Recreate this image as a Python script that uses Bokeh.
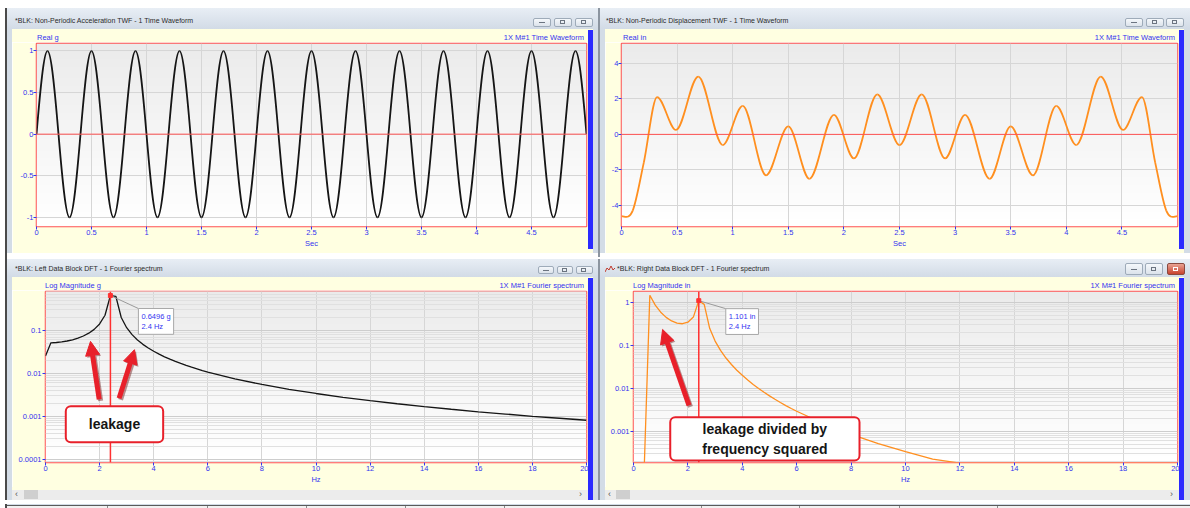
import math
import numpy as np
from bokeh.plotting import figure
from bokeh.layouts import row, column
from bokeh.models import (Div, Span, Label, Arrow, NormalHead, FixedTicker,
                          PrintfTickFormatter, ColumnDataSource)
from bokeh.embed import file_html
from bokeh.resources import INLINE

# ------------------------------------------------------------------ data
# acceleration time waveform (g) read every 0.1 s
acc_time_s = [0.0, 0.1, 0.2, 0.3, 0.4, 0.5, 0.6, 0.7, 0.8, 0.9,
              1.0, 1.1, 1.2, 1.3, 1.4, 1.5, 1.6, 1.7, 1.8, 1.9,
              2.0, 2.1, 2.2, 2.3, 2.4, 2.5, 2.6, 2.7, 2.8, 2.9,
              3.0, 3.1, 3.2, 3.3, 3.4, 3.5, 3.6, 3.7, 3.8, 3.9,
              4.0, 4.1, 4.2, 4.3, 4.4, 4.5, 4.6, 4.7, 4.8, 4.9, 5.0]
acc_g = [0, 1, 0, -1, 0, 1, 0, -1, 0, 1,
         0, -1, 0, 1, 0, -1, 0, 1, 0, -1,
         0, 1, 0, -1, 0, 1, 0, -1, 0, 1,
         0, -1, 0, 1, 0, -1, 0, 1, 0, -1,
         0, 1, 0, -1, 0, 1, 0, -1, 0, 1, 0]

# displacement time waveform (in): turning points
disp_time_s = [0.0, 0.1, 0.2, 0.32, 0.49, 0.69, 0.91, 1.09, 1.30, 1.50,
               1.69, 1.91, 2.09, 2.30, 2.50, 2.70, 2.91, 3.09, 3.31, 3.50,
               3.70, 3.91, 4.09, 4.31, 4.51, 4.68, 4.8, 4.9, 5.0]
disp_in = [-4.6, -4.3, -1.6, 2.1, 0.25, 3.25, -0.6, 1.6, -2.3, 0.45,
           -2.5, 1.1, -1.35, 2.25, -0.6, 2.25, -1.35, 1.1, -2.5, 0.45,
           -2.3, 1.6, -0.6, 3.25, 0.25, 2.1, -1.6, -4.3, -4.6]

# Fourier spectra (log magnitude)
spec_hz = [0.0, 0.2, 0.4, 0.6, 0.8, 1.0, 1.2, 1.4, 1.6, 1.8,
           2.0, 2.2, 2.4, 2.6, 2.8, 3.0, 3.2, 3.4, 3.6, 3.8,
           4.0, 4.2, 4.4, 4.6, 4.8, 5.0, 5.2, 5.4, 5.6, 5.8,
           6.0, 7, 8, 9, 10, 11, 12, 13, 14, 15, 16, 17, 18, 19, 20]
spec_left_g = [0.0255, 0.0513, 0.0523, 0.0540, 0.0567, 0.0606, 0.0662, 0.0742, 0.0863, 0.1058,
               0.1415, 0.2257, 0.6496, 0.6241, 0.2002, 0.1158, 0.0798, 0.0599, 0.0474, 0.0389,
               0.0327, 0.0280, 0.0243, 0.0214, 0.0190, 0.0170, 0.0153, 0.0139, 0.0127, 0.0116,
               0.0107, 0.00745, 0.00551, 0.00426, 0.00340, 0.00277, 0.00231, 0.00196, 0.00168,
               0.00146, 0.00127, 0.00113, 0.00100, 0.00090, 0.00081]
spec_right_in = [0.00018, 0.00018, 0.00018, 1.468, 0.867, 0.593, 0.4495, 0.370, 0.3295, 0.319,
                 0.346, 0.456, 1.101, 0.903, 0.2497, 0.1258, 0.0762, 0.0507, 0.0358, 0.0263,
                 0.0200, 0.0155, 0.01227, 0.00987, 0.00805, 0.00664, 0.00554, 0.00466, 0.00395, 0.00338,
                 0.00291, 0.00149, 0.000842, 0.000514, 0.000332, 0.000224, 0.00018, 0.00018, 0.00018,
                 0.00018, 0.00018, 0.00018, 0.00018, 0.00018, 0.00018]
peak_hz = 2.4
peak_left_g = 0.6496
peak_right_in = 1.101

time_ticks = [0, 0.5, 1, 1.5, 2, 2.5, 3, 3.5, 4, 4.5]
acc_ticks = [-1, -0.5, 0, 0.5, 1]
disp_ticks = [-4, -2, 0, 2, 4]
freq_ticks = [0, 2, 4, 6, 8, 10, 12, 14, 16, 18, 20]
left_log_ticks = [0.0001, 0.001, 0.01, 0.1]
right_log_ticks = [0.001, 0.01, 0.1, 1]

win_titles = ["*BLK: Non-Periodic Acceleration TWF - 1 Time Waveform",
              "*BLK: Non-Periodic Displacement TWF - 1 Time Waveform",
              "*BLK: Left Data Block DFT - 1 Fourier spectrum",
              "*BLK: Right Data Block DFT - 1 Fourier spectrum"]
headers_left = ["Real g", "Real in", "Log Magnitude g", "Log Magnitude in"]
headers_right = ["1X M#1 Time Waveform", "1X M#1 Time Waveform",
                 "1X M#1 Fourier spectrum", "1X M#1 Fourier spectrum"]

# annotation placements (tail f, tail y, tip f, tip y)
left_arrows = [(1.985, 0.00248, 1.664, 0.0555), (2.72, 0.00262, 3.29, 0.0356)]
right_arrows = [(2.04, 0.00398, 1.07, 0.235)]
left_callout = (2.55, 0.000652, "leakage")
right_callout = (4.83, 0.000658, "leakage divided by\nfrequency squared")

# ------------------------------------------------------------------ style
FONT = "Liberation Sans"
BLUE = "#3434f0"
RED = "#ff5252"
CUR = "#ff3030"
ARROW = "#e8202a"
YELLOW = "#ffffe1"
FRAME = "#d3dce6"
DIVIDER = "#8c95a0"
GRID = "#d6d6d6"
BLUEBAR = "#2a2aff"


def html_block(w, h, inner, bg):
    return Div(text=(f'<div style="position:relative;width:{w}px;height:{h}px;'
                     f'background:{bg};overflow:hidden;">{inner}</div>'),
               width=w, height=h, margin=0)


def box(x, y, w, h, bg, extra=""):
    return (f'<div style="position:absolute;left:{x}px;top:{y}px;width:{w}px;'
            f'height:{h}px;background:{bg};{extra}"></div>')


def title_bar(w, h, text, tx, ty, btns, active=False, icon=False):
    inner = ""
    if icon:
        inner += ('<svg width="10" height="8" style="position:absolute;left:5px;top:6px">'
                  '<polyline points="0,7 2,3 4,5 6,1 8,5 10,3" fill="none" '
                  'stroke="#c0392b" stroke-width="1"/></svg>')
    inner += (f'<div style="position:absolute;left:{tx}px;top:{ty}px;font-family:\'{FONT}\';'
              f'font-size:7px;line-height:8px;color:#2b2b2b;white-space:nowrap;">{text}</div>')
    for i, (bx, by, bw, bh) in enumerate(btns):
        close = active and i == 2
        bg = "linear-gradient(#e9a393,#c8432f)" if close else "linear-gradient(#f5f8fb,#dce3eb)"
        brd = "#8a4a40" if close else "#9eabb9"
        inner += box(bx, by, bw, bh, bg,
                     f"box-sizing:border-box;border:1px solid {brd};border-radius:2px;")
        gc = "#ffffff" if close else "#6b7480"
        gx, gy = bx + bw // 2 - 3, by + bh // 2 - 2
        if i == 0:
            inner += box(gx, gy + 2, 6, 1, gc)
        else:
            inner += box(gx, gy, 5, 4, "transparent",
                         f"box-sizing:border-box;border:1px solid {gc};")
    return html_block(w, h, inner, "linear-gradient(#e8eef5,#d2dbe6)")


def header_bar(w, h, left_text, right_text, lx, rpad, cy):
    css = (f"position:absolute;top:{cy - 5}px;font-family:'{FONT}';font-size:7.5px;"
           f"line-height:10px;color:{BLUE};white-space:nowrap;")
    inner = f'<div style="{css}left:{lx}px;">{left_text}</div>'
    inner += f'<div style="{css}right:{rpad}px;">{right_text}</div>'
    return html_block(w, h, inner, YELLOW)


def blue_bar(h, top, bottom):
    return html_block(5, h, box(0, top, 5, h - top - bottom, BLUEBAR), YELLOW)


def scroll_bar(w, thumb_x):
    inner = box(0, 3, w, 10, "#ececec")
    inner += box(thumb_x, 3, 14, 9, "#cfcfcf")
    inner += (f'<div style="position:absolute;left:3px;top:2px;font-family:\'{FONT}\';'
              f'font-size:9px;line-height:10px;color:#555;">&lsaquo;</div>')
    inner += (f'<div style="position:absolute;left:{w - 9}px;top:2px;font-family:\'{FONT}\';'
              f'font-size:9px;line-height:10px;color:#555;">&rsaquo;</div>')
    return html_block(w, 13, inner, YELLOW)


def add_gradient(p, x0, x1, y0, y1):
    n = 48
    img = np.zeros((n, 1), dtype=np.uint32)
    view = img.view(dtype=np.uint8).reshape((n, 1, 4))
    for i in range(n):
        c = int(round(255 - 20 * i / (n - 1)))
        view[i, 0] = (c, c, c, 255)
    p.image_rgba(image=[img], x=x0, y=y0, dw=x1 - x0, dh=y1 - y0, level="image")


def make_fig(w, h, xr, yr, mbl, mbb, log=False):
    p = figure(width=w, height=h, x_range=xr, y_range=yr,
               y_axis_type="log" if log else "linear",
               output_backend="svg", toolbar_location=None, margin=0,
               min_border_left=mbl, min_border_right=2, min_border_top=1,
               min_border_bottom=mbb)
    p.background_fill_color = "#ffffff"
    p.border_fill_color = YELLOW
    p.outline_line_color = RED
    p.outline_line_width = 1.5
    for ax in (p.xaxis[0], p.yaxis[0]):
        ax.axis_line_color = None
        ax.major_tick_line_color = BLUE
        ax.major_tick_out = 3
        ax.major_tick_in = 0
        ax.minor_tick_line_color = None
        ax.major_label_text_color = BLUE
        ax.major_label_text_font = FONT
        ax.major_label_text_font_size = "7.5px"
        ax.major_label_standoff = 0
        ax.axis_label_text_color = BLUE
        ax.axis_label_text_font = FONT
        ax.axis_label_text_font_size = "7.5px"
        ax.axis_label_text_font_style = "normal"
        ax.axis_label_standoff = 1
        ax.formatter = PrintfTickFormatter(format="%g")
    p.xgrid.grid_line_color = GRID
    p.ygrid.grid_line_color = "#cdcdcd" if log else GRID
    if log:
        p.ygrid.minor_grid_line_color = "#e0e0e0"
    add_gradient(p, xr[0], xr[1], yr[0], yr[1])
    return p


def hermite_source(t, v, m):
    t = np.asarray(t, float)
    v = np.asarray(v, float)
    m = np.asarray(m, float)
    dx = np.diff(t)
    return ColumnDataSource(dict(x0=t[:-1], y0=v[:-1], x1=t[1:], y1=v[1:],
                                 cx0=t[:-1] + dx / 3, cy0=v[:-1] + m[:-1] * dx / 3,
                                 cx1=t[1:] - dx / 3, cy1=v[1:] - m[1:] * dx / 3))


def log_minor(lo, hi):
    return [k * 10.0 ** d for d in range(lo, hi) for k in range(2, 10)]


# ------------------------------------------------------------------ top-left
xr_t = (0.0, 5.0)
yr_tl = (-1.11, 1.09)
p_tl = make_fig(576, 211, xr_t, yr_tl, 24, 27)
p_tl.xaxis.ticker = FixedTicker(ticks=time_ticks)
p_tl.yaxis.ticker = FixedTicker(ticks=acc_ticks)
p_tl.xaxis.axis_label = "Sec"
p_tl.add_layout(Span(location=0, dimension="width", line_color=RED, line_width=1))
acc_slope = (math.pi / 2) * np.gradient(np.asarray(acc_g, float), np.asarray(acc_time_s, float))
p_tl.bezier(x0="x0", y0="y0", x1="x1", y1="y1", cx0="cx0", cy0="cy0", cx1="cx1", cy1="cy1",
            source=hermite_source(acc_time_s, acc_g, acc_slope),
            line_color="#151515", line_width=1.8)

# ------------------------------------------------------------------ top-right
yr_tr = (-5.18, 5.11)
p_tr = make_fig(574, 211, xr_t, yr_tr, 16, 27)
p_tr.xaxis.ticker = FixedTicker(ticks=time_ticks)
p_tr.yaxis.ticker = FixedTicker(ticks=disp_ticks)
p_tr.xaxis.axis_label = "Sec"
p_tr.add_layout(Span(location=0, dimension="width", line_color=RED, line_width=1))
dv = np.asarray(disp_in, float)
disp_slope = np.gradient(dv, np.asarray(disp_time_s, float))
for i in range(len(dv)):
    if i == 0 or i == len(dv) - 1 or (dv[i] - dv[i - 1]) * (dv[i + 1] - dv[i]) < 0:
        disp_slope[i] = 0.0
p_tr.bezier(x0="x0", y0="y0", x1="x1", y1="y1", cx0="cx0", cy0="cy0", cx1="cx1", cy1="cy1",
            source=hermite_source(disp_time_s, disp_in, disp_slope),
            line_color="#ff8f1f", line_width=1.8)


# ------------------------------------------------------------------ spectra
def spectrum(w, mbl, yr, yvals, ticks, color, peak_val, unit, fw, box_dx, box_dy,
             arrows, callout, pad):
    xr = (0.0, 20.0)
    p = make_fig(w, 197, xr, yr, mbl, 25, log=True)
    p.xaxis.ticker = FixedTicker(ticks=freq_ticks)
    p.yaxis.ticker = FixedTicker(ticks=ticks, minor_ticks=log_minor(-5, 1))
    p.xaxis.axis_label = "Hz"
    fh = 171.0
    px_x = (xr[1] - xr[0]) / fw
    dec = (math.log10(yr[1]) - math.log10(yr[0])) / fh

    def dx(x, d):
        return x + d * px_x

    def dy(y, d):
        return y * 10 ** (d * dec)

    p.line(spec_hz, yvals, line_color=color, line_width=1.3)
    p.add_layout(Span(location=peak_hz, dimension="height", line_color=CUR, line_width=1.5))
    # connector to the value box
    p.segment(x0=[peak_hz], y0=[peak_val], x1=[dx(peak_hz, box_dx)], y1=[dy(peak_val, box_dy)],
              line_color="#9a9a9a", line_width=1)
    p.scatter([peak_hz], [peak_val], marker="square", size=4, color=CUR)
    p.add_layout(Label(x=peak_hz, y=peak_val, x_offset=box_dx, y_offset=box_dy,
                       text=f"{peak_val:.4g} {unit}\n{peak_hz:g} Hz",
                       text_align="left", text_baseline="top", text_color=BLUE,
                       text_font=FONT, text_font_size="7.5px",
                       background_fill_color="white", border_line_color="#a8a8a8",
                       padding=3))
    # arrows with a shadow
    for (x0, y0, x1, y1) in arrows:
        p.add_layout(Arrow(x_start=dx(x0, 1.5), y_start=dy(y0, -1.5),
                           x_end=dx(x1, 1.5), y_end=dy(y1, -1.5),
                           line_color="#6a1010", line_alpha=0.45, line_width=5,
                           end=NormalHead(size=14, fill_color="#6a1010", fill_alpha=0.45,
                                          line_color=None)))
        p.add_layout(Arrow(x_start=x0, y_start=y0, x_end=x1, y_end=y1,
                           line_color=ARROW, line_width=5,
                           end=NormalHead(size=14, fill_color=ARROW, line_color=ARROW)))
    cx, cy, ctext = callout
    p.add_layout(Label(x=dx(cx, 2), y=dy(cy, -2), text=ctext, text_align="center",
                       text_baseline="middle", text_font=FONT, text_font_style="bold",
                       text_font_size="14px", text_alpha=0.0,
                       background_fill_color="#000000", background_fill_alpha=0.22,
                       border_radius=5, padding=pad))
    p.add_layout(Label(x=cx, y=cy, text=ctext, text_align="center", text_baseline="middle",
                       text_font=FONT, text_font_style="bold", text_font_size="14px",
                       text_color="#151515", background_fill_color="white",
                       border_line_color=ARROW, border_line_width=2, border_radius=5,
                       padding=pad))
    return p


p_bl = spectrum(576, 33, (8.4e-5, 0.806), spec_left_g, left_log_ticks, "#151515",
                peak_left_g, "g", 541.0, 28, -13, left_arrows, left_callout, (23, 10))
p_br = spectrum(574, 28, (1.86e-4, 1.80), spec_right_in, right_log_ticks, "#ff8f1f",
                peak_right_in, "in", 544.0, 27, -8, right_arrows, right_callout, (32, 4))

# ------------------------------------------------------------------ chrome / layout
tl_win = column(
    title_bar(591, 21, win_titles[0], 8, 9, [(526, 10, 18, 9), (547, 10, 18, 9), (568, 10, 18, 9)]),
    row(html_block(5, 224, "", FRAME),
        column(header_bar(576, 13, headers_left[0], headers_right[0], 25, 4, 9), p_tl),
        blue_bar(224, 1, 4), html_block(5, 224, "", FRAME)),
    html_block(591, 4, "", FRAME))
tr_win = column(
    title_bar(590, 21, win_titles[1], 6, 9, [(525, 10, 18, 9), (546, 10, 18, 9), (566, 10, 18, 9)]),
    row(html_block(5, 224, "", FRAME),
        column(header_bar(574, 13, headers_left[1], headers_right[1], 18, 4, 9), p_tr),
        blue_bar(224, 1, 4), html_block(6, 224, "", FRAME)),
    html_block(590, 4, "", FRAME))
bl_win = column(
    title_bar(591, 18, win_titles[2], 8, 6, [(531, 7, 16, 8), (550, 7, 16, 8), (569, 7, 17, 8)]),
    row(html_block(5, 223, "", FRAME),
        column(header_bar(576, 13, headers_left[2], headers_right[2], 33, 4, 9), p_bl,
               scroll_bar(576, 12)),
        blue_bar(223, 1, 0), html_block(5, 223, "", FRAME)))
br_win = column(
    title_bar(590, 18, win_titles[3], 17, 6, [(525, 4, 18, 12), (545, 4, 18, 12), (567, 4, 18, 12)],
              active=True, icon=True),
    row(html_block(5, 223, "", FRAME),
        column(header_bar(574, 13, headers_left[3], headers_right[3], 28, 4, 9), p_br,
               scroll_bar(574, 11)),
        blue_bar(223, 1, 0), html_block(6, 223, "", FRAME)))

main = column(
    row(tl_win, html_block(2, 249, "", DIVIDER), tr_win),
    html_block(1183, 2, "", DIVIDER),
    row(bl_win, html_block(2, 241, "", DIVIDER), br_win))

left_strip = html_block(7, 492, box(5, 0, 2, 492, "#4a4a4a"), "#ffffff")
top_strip = html_block(1190, 8, box(5, 6, 1185, 2, "#4a4a4a"), "#ffffff")
seps = "".join(box(x, 2, 1, 6, "#8a8a8a") for x in (107, 207, 306, 405, 504, 701, 799, 899, 997))
bottom_strip = html_block(1190, 8,
                          box(5, 0, 2, 8, "#4a4a4a") + box(7, 0, 1183, 1, FRAME)
                          + box(7, 1, 1183, 1, "#5a5a5a") + box(7, 2, 1183, 6, "#f2f2f2") + seps,
                          "#ffffff")

root = column(top_strip, row(left_strip, main), bottom_strip)

open("out.html", "w").write(file_html(root, INLINE))
